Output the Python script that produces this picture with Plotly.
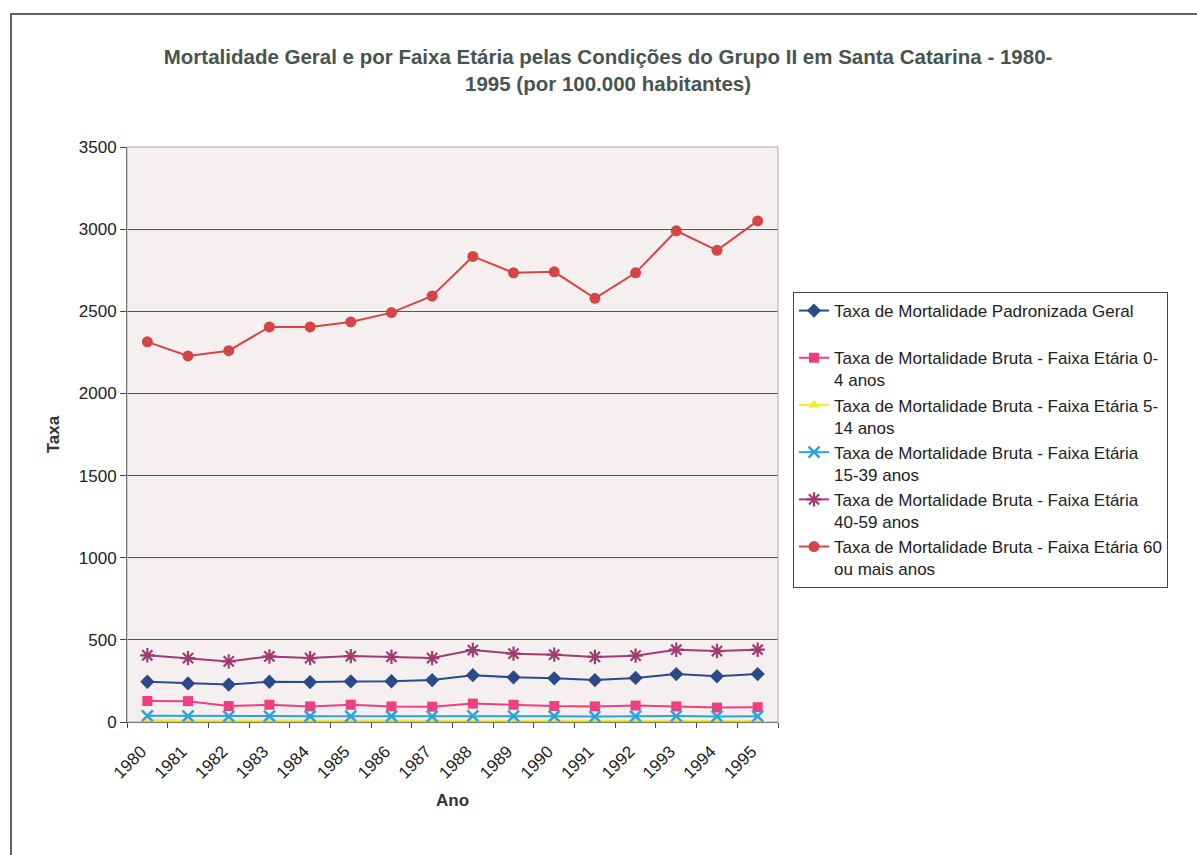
import plotly.graph_objects as go

# Anos (categorias do eixo X)
anos = ["1980", "1981", "1982", "1983", "1984", "1985", "1986", "1987",
        "1988", "1989", "1990", "1991", "1992", "1993", "1994", "1995"]

# Taxas por 100.000 habitantes
padronizada_geral = [245, 235, 228, 245, 243, 247, 248, 255, 285, 272, 266, 255, 268, 292, 278, 292]
faixa_0_4 = [128, 127, 97, 105, 95, 105, 95, 93, 112, 105, 97, 95, 100, 95, 88, 90]
faixa_5_14 = [10, 9, 8, 8, 8, 8, 8, 7, 8, 7, 7, 6, 7, 7, 6, 6]
faixa_15_39 = [38, 36, 34, 36, 35, 35, 35, 34, 38, 36, 35, 33, 35, 36, 34, 35]
faixa_40_59 = [406, 389, 369, 399, 389, 401, 397, 389, 438, 416, 410, 396, 404, 440, 432, 440]
faixa_60_mais = [2314, 2228, 2260, 2405, 2405, 2435, 2492, 2593, 2834, 2734, 2740, 2579, 2734, 2990, 2871, 3050]

series = [
    ("Taxa de Mortalidade Padronizada Geral<br> ", padronizada_geral, "#2B4A8A", "diamond", 11, 0),
    ("Taxa de Mortalidade Bruta - Faixa Etária 0-<br>4 anos", faixa_0_4, "#EE3F80", "square", 10, 0),
    ("Taxa de Mortalidade Bruta - Faixa Etária 5-<br>14 anos", faixa_5_14, "#F2EC2A", "triangle-up", 10, 0),
    ("Taxa de Mortalidade Bruta - Faixa Etária<br>15-39 anos", faixa_15_39, "#2AA4E0", "x-thin-open", 11, 2.5),
    ("Taxa de Mortalidade Bruta - Faixa Etária<br>40-59 anos", faixa_40_59, "#A03C72", "asterisk-open", 12, 2.2),
    ("Taxa de Mortalidade Bruta - Faixa Etária 60<br>ou mais anos", faixa_60_mais, "#D64545", "circle", 11, 0),
]

fig = go.Figure()
for i, (nome, valores, cor, simbolo, tam, lw) in enumerate(series):
    marker = dict(symbol=simbolo, size=tam, color=cor)
    if lw:
        marker["line"] = dict(color=cor, width=lw)
    else:
        marker["line"] = dict(width=0)
    fig.add_trace(go.Scatter(
        x=anos, y=valores, name=nome, mode="lines+markers",
        line=dict(color=cor, width=2), marker=marker,
        legendgroup=f"g{i}",
    ))

font_family = "Liberation Sans, Arial, sans-serif"

fig.update_layout(
    width=1197, height=855,
    margin=dict(l=127, r=419, t=147, b=133),
    paper_bgcolor="white",
    plot_bgcolor="#F5EFEF",
    font=dict(family=font_family, size=17, color="#222222"),
    title=dict(
        text="<b>Mortalidade Geral e por Faixa Etária pelas Condições do Grupo II em Santa Catarina - 1980-<br>1995 (por 100.000 habitantes)</b>",
        x=0.508, xref="container", xanchor="center",
        y=1 - 64 / 855, yref="container", yanchor="top",
        font=dict(family=font_family, size=20.5, color="#48554F"),
    ),
    xaxis=dict(
        type="category",
        tickangle=-45,
        ticks="outside", ticklen=5, tickcolor="#444",
        tickson="boundaries",
        ticklabelstandoff=12,
        ticklabelshift=-6,
        showline=True, linecolor="#444", linewidth=1,
        showgrid=False,
        tickfont=dict(size=17, color="#222"),
        title=dict(text="<b>Ano</b>", font=dict(size=17, color="#333"), standoff=12),
        range=[-0.5, 15.5],
    ),
    yaxis=dict(
        range=[0, 3500], dtick=500,
        ticks="outside", ticklen=6, tickcolor="#444",
        showline=True, linecolor="#444", linewidth=1,
        showgrid=True, gridcolor="#555555", gridwidth=1,
        zeroline=False,
        tickfont=dict(size=17, color="#222"),
        title=dict(text="<b>Taxa</b>", font=dict(size=17, color="#333"), standoff=14),
    ),
    legend=dict(
        x=(793 - 127) / 651, xanchor="left",
        y=(722 - 292) / 575, yanchor="top",
        bordercolor="#444", borderwidth=1,
        bgcolor="white",
        font=dict(family=font_family, size=17, color="#222"),
        valign="top",
        tracegroupgap=0,
        itemwidth=30,
    ),
    showlegend=True,
)

# contorno da área do gráfico e borda externa
fig.add_shape(type="rect", xref="paper", yref="paper", x0=0, y0=0, x1=1, y1=1,
              line=dict(color="#AAAAAA", width=1), layer="above")
fig.add_shape(type="rect", xref="paper", yref="paper",
              x0=(11 - 127) / 651, y0=(722 - 870) / 575,
              x1=(1210 - 127) / 651, y1=(722 - 14) / 575,
              line=dict(color="#333333", width=1.5), layer="above")

fig.write_html("out.html")
